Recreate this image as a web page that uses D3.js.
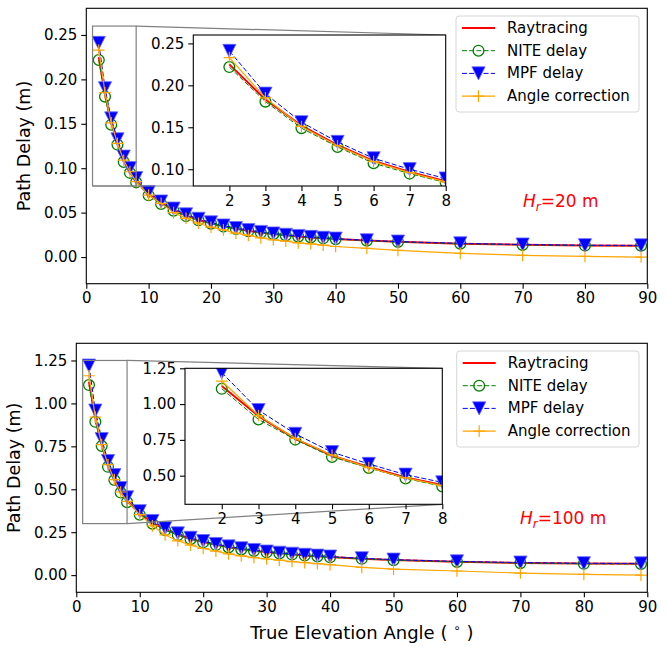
<!DOCTYPE html>
<html>
<head>
<meta charset="utf-8">
<script src="https://cdn.jsdelivr.net/npm/d3@7"></script>
<style>
  body { margin: 0; background: #fff; }
  text { font-family: "DejaVu Sans", sans-serif; }
</style>
</head>
<body>
<svg id="chart" width="669" height="648"></svg>
<script>
// elevation angles (deg)
const angles = [2, 3, 4, 5, 6, 7, 8, 10, 12, 14, 16, 18, 20, 22, 24, 26, 28, 30, 32, 34, 36, 38, 40, 45, 50, 60, 70, 80, 89];

// Hr = 20 m
const ray20 = [0.225, 0.183, 0.152, 0.1286, 0.110, 0.0968, 0.0857, 0.0705, 0.0605, 0.0528, 0.0466, 0.0418, 0.0380, 0.0346, 0.0318, 0.0295, 0.0275, 0.0259, 0.0245, 0.0232, 0.0221, 0.0212, 0.0203, 0.0185, 0.0171, 0.0151, 0.0138, 0.0130, 0.0128];
const nite20 = [0.2218, 0.1806, 0.149, 0.1266, 0.1071, 0.0948, 0.0841, 0.0695, 0.0598, 0.0522, 0.0461, 0.0414, 0.0376, 0.0343, 0.0315, 0.0292, 0.0273, 0.0257, 0.0243, 0.0230, 0.0220, 0.0211, 0.0202, 0.0184, 0.0170, 0.0150, 0.0137, 0.0129, 0.0127];
const mpf20 = [0.241, 0.190, 0.156, 0.1325, 0.113, 0.100, 0.0889, 0.073, 0.0625, 0.0545, 0.048, 0.043, 0.039, 0.0355, 0.0326, 0.0302, 0.0282, 0.0265, 0.0250, 0.0237, 0.0226, 0.0216, 0.0207, 0.0188, 0.0174, 0.0154, 0.0141, 0.0133, 0.0131];
const corr20 = [0.233, 0.185, 0.151, 0.128, 0.109, 0.096, 0.085, 0.0698, 0.0604, 0.0500, 0.0436, 0.0381, 0.0336, 0.0306, 0.0269, 0.0243, 0.0216, 0.0194, 0.0179, 0.0160, 0.0149, 0.0134, 0.0119, 0.0097, 0.0075, 0.0041, 0.0019, 0.0007, 0.0];

// Hr = 100 m
const ray100 = [1.126, 0.916, 0.757, 0.640, 0.561, 0.488, 0.435, 0.360, 0.305, 0.265, 0.236, 0.211, 0.193, 0.177, 0.163, 0.152, 0.142, 0.134, 0.127, 0.121, 0.115, 0.110, 0.105, 0.096, 0.088, 0.078, 0.071, 0.067, 0.066];
const nite100 = [1.107, 0.893, 0.752, 0.631, 0.554, 0.481, 0.425, 0.352, 0.300, 0.261, 0.233, 0.209, 0.191, 0.175, 0.161, 0.150, 0.141, 0.133, 0.126, 0.120, 0.114, 0.109, 0.104, 0.095, 0.087, 0.077, 0.070, 0.066, 0.065];
const mpf100 = [1.22, 0.958, 0.792, 0.664, 0.582, 0.507, 0.453, 0.372, 0.315, 0.273, 0.243, 0.217, 0.198, 0.181, 0.167, 0.156, 0.146, 0.137, 0.130, 0.124, 0.118, 0.113, 0.108, 0.098, 0.090, 0.080, 0.073, 0.069, 0.068];
const corr100 = [1.161, 0.920, 0.760, 0.643, 0.556, 0.484, 0.430, 0.352, 0.287, 0.234, 0.200, 0.175, 0.155, 0.140, 0.124, 0.112, 0.102, 0.094, 0.087, 0.079, 0.073, 0.067, 0.061, 0.045, 0.035, 0.024, 0.012, 0.004, 0.0];

const xTicks = [0, 10, 20, 30, 40, 50, 60, 70, 80, 90];
const yTicks20 = [0, 0.05, 0.10, 0.15, 0.20, 0.25];
const yTicks100 = [0, 0.25, 0.50, 0.75, 1.00, 1.25];
const insetXTicks = [2, 3, 4, 5, 6, 7, 8];
const insetYTicks20 = [0.10, 0.15, 0.20, 0.25];
const insetYTicks100 = [0.50, 0.75, 1.00, 1.25];
const seriesNames = ["Raytracing", "NITE delay", "MPF delay", "Angle correction"];

const svg = d3.select("#chart");
const fmt2 = d3.format(".2f");

const styles = [
  {color: "#ff0000", width: 2, dash: null, marker: null},
  {color: "#008000", width: 1, dash: "5,2.2", marker: "circle"},
  {color: "#0000ff", width: 1, dash: "5,2.2", marker: "tri"},
  {color: "#ffa500", width: 1.2, dash: null, marker: "plus"}
];

function drawMarker(g, kind, cx, cy, color) {
  if (kind === "circle") {
    g.append("circle").attr("cx", cx).attr("cy", cy).attr("r", 5.4)
      .attr("fill", "none").attr("stroke", color).attr("stroke-width", 1.3);
  } else if (kind === "tri") {
    const s = 6.6;
    g.append("path")
      .attr("d", `M${cx - s},${cy - s}L${cx + s},${cy - s}L${cx},${cy + s}Z`)
      .attr("fill", color).attr("stroke", "#6a6aff").attr("stroke-width", 0.8);
  } else if (kind === "plus") {
    const s = 5.8;
    g.append("path")
      .attr("d", `M${cx - s},${cy}H${cx + s}M${cx},${cy - s}V${cy + s}`)
      .attr("stroke", color).attr("stroke-width", 1.2).attr("fill", "none");
  }
}

let clipId = 0;
function drawSeries(g, x, y, seriesList) {
  const line = d3.line().x(d => x(d[0])).y(d => y(d[1]));
  seriesList.forEach((vals, k) => {
    const st = styles[k];
    const pts = angles.map((a, i) => [a, vals[i]]);
    g.append("path").datum(pts)
      .attr("d", line)
      .attr("fill", "none")
      .attr("stroke", st.color)
      .attr("stroke-width", st.width)
      .attr("stroke-dasharray", st.dash);
    if (st.marker) {
      const mg = g.append("g");
      pts.forEach(p => drawMarker(mg, st.marker, x(p[0]), y(p[1]), st.color));
    }
  });
}

function drawFrame(g, box, x, y, xt, yt, xfmt, yfmt, fs) {
  g.append("rect").attr("x", box.l).attr("y", box.t)
    .attr("width", box.r - box.l).attr("height", box.b - box.t)
    .attr("fill", "none").attr("stroke", "#000").attr("stroke-width", 1.1);
  const xa = g.append("g").attr("transform", `translate(0,${box.b})`)
    .call(d3.axisBottom(x).tickValues(xt).tickFormat(xfmt).tickSize(5).tickPadding(4));
  const ya = g.append("g").attr("transform", `translate(${box.l},0)`)
    .call(d3.axisLeft(y).tickValues(yt).tickFormat(yfmt).tickSize(5).tickPadding(4));
  [xa, ya].forEach(a => {
    a.select(".domain").remove();
    a.selectAll("line").attr("stroke", "#000").attr("stroke-width", 1.1);
    a.selectAll("text").attr("font-size", fs).attr("fill", "#000")
      .attr("font-family", "DejaVu Sans");
  });
}

function drawPanel(p) {
  const g = svg.append("g");
  const x = d3.scaleLinear().domain([0, 90]).range([p.box.l, p.box.r]);
  const y = d3.scaleLinear().domain(p.ydom).range([p.box.b, p.box.t]);
  const id = "clip" + (clipId++);
  svg.append("clipPath").attr("id", id).append("rect")
    .attr("x", p.box.l).attr("y", p.box.t)
    .attr("width", p.box.r - p.box.l).attr("height", p.box.b - p.box.t);
  const data = g.append("g").attr("clip-path", `url(#${id})`);
  drawSeries(data, x, y, p.series);
  drawFrame(g, p.box, x, y, xTicks, p.yticks, d3.format("d"), fmt2, 15);

  // y label
  g.append("text")
    .attr("transform", `translate(${p.ylabelX},${(p.box.t + p.box.b) / 2}) rotate(-90)`)
    .attr("text-anchor", "middle").attr("dominant-baseline", "central")
    .attr("font-size", 17.5).text("Path Delay (m)");

  // Hr annotation
  const hr = g.append("text").attr("x", p.hr.x).attr("y", p.hr.y)
    .attr("font-size", 17).attr("fill", "#ff0000");
  hr.append("tspan").attr("font-style", "italic").text("H");
  hr.append("tspan").attr("font-style", "italic").attr("font-size", 12).attr("dy", 4).text("r");
  hr.append("tspan").attr("dy", -4).text("=" + p.hr.value + " m");

  // inset
  const ib = p.inset.box;
  const xi = d3.scaleLinear().domain([1, 8]).range([ib.l, ib.r]);
  const yi = d3.scaleLinear().domain(p.inset.ydom).range([ib.b, ib.t]);

  // indicator rectangle and connectors
  const rx0 = x(1), rx1 = x(8), ry0 = y(p.inset.ydom[1]), ry1 = y(p.inset.ydom[0]);
  const ind = g.append("g").attr("stroke", "#808080").attr("stroke-width", 1.2).attr("fill", "none");
  ind.append("rect").attr("x", rx0).attr("y", ry0).attr("width", rx1 - rx0).attr("height", ry1 - ry0);
  ind.append("line").attr("x1", rx1).attr("y1", ry0).attr("x2", ib.r).attr("y2", ib.t);
  if (p.inset.loc2 === 3) {
    ind.append("line").attr("x1", rx0).attr("y1", ry1).attr("x2", ib.l).attr("y2", ib.b);
  } else {
    ind.append("line").attr("x1", rx1).attr("y1", ry1).attr("x2", ib.r).attr("y2", ib.b);
  }

  const ig = svg.append("g");
  ig.append("rect").attr("x", ib.l).attr("y", ib.t)
    .attr("width", ib.r - ib.l).attr("height", ib.b - ib.t).attr("fill", "#fff");
  const iid = "clip" + (clipId++);
  svg.append("clipPath").attr("id", iid).append("rect")
    .attr("x", ib.l).attr("y", ib.t).attr("width", ib.r - ib.l).attr("height", ib.b - ib.t);
  const idata = ig.append("g").attr("clip-path", `url(#${iid})`);
  drawSeries(idata, xi, yi, p.series);
  drawFrame(ig, ib, xi, yi, insetXTicks, p.inset.yticks, d3.format("d"), fmt2, 15);

  // legend
  const lg = svg.append("g");
  const lb = p.legend;
  lg.append("rect").attr("x", lb.l).attr("y", lb.t).attr("width", lb.r - lb.l).attr("height", lb.b - lb.t)
    .attr("rx", 3).attr("fill", "#fff").attr("fill-opacity", 0.8)
    .attr("stroke", "#d6d6d6").attr("stroke-width", 1);
  seriesNames.forEach((name, k) => {
    const st = styles[k];
    const cy = lb.t + 12 + k * 22.7;
    lg.append("line").attr("x1", lb.l + 6).attr("x2", lb.l + 39).attr("y1", cy).attr("y2", cy)
      .attr("stroke", st.color).attr("stroke-width", st.width).attr("stroke-dasharray", st.dash);
    if (st.marker) drawMarker(lg, st.marker, lb.l + 22.5, cy, st.color);
    lg.append("text").attr("x", lb.l + 51).attr("y", cy).attr("dominant-baseline", "central")
      .attr("font-size", 15).text(name);
  });
}

drawPanel({
  box: {l: 86.3, r: 647.3, t: 8.3, b: 283.7},
  ydom: [-0.03, 0.28],
  yticks: yTicks20,
  series: [ray20, nite20, mpf20, corr20],
  ylabelX: 24,
  hr: {x: 523, y: 207, value: 20},
  inset: {box: {l: 193.3, r: 445.7, t: 35, b: 186}, ydom: [0.08, 0.26], yticks: insetYTicks20, loc2: 3},
  legend: {l: 456, r: 639, t: 16, b: 112}
});

drawPanel({
  box: {l: 76.3, r: 647.3, t: 343.3, b: 592.3},
  ydom: [-0.1, 1.35],
  yticks: yTicks100,
  series: [ray100, nite100, mpf100, corr100],
  ylabelX: 14,
  hr: {x: 520, y: 524, value: 100},
  inset: {box: {l: 185, r: 442.3, t: 368.3, b: 504.3}, ydom: [0.3, 1.25], yticks: insetYTicks100, loc2: 4},
  legend: {l: 456.7, r: 639, t: 351, b: 447}
});

// x label
const xl = svg.append("text").attr("x", 361.8).attr("y", 639)
  .attr("text-anchor", "middle").attr("font-size", 18).text("True Elevation Angle ( ");
xl.append("tspan").attr("font-size", 12).attr("dy", -7).text("∘");
xl.append("tspan").attr("dy", 7).text(" )");
</script>
</body>
</html>
